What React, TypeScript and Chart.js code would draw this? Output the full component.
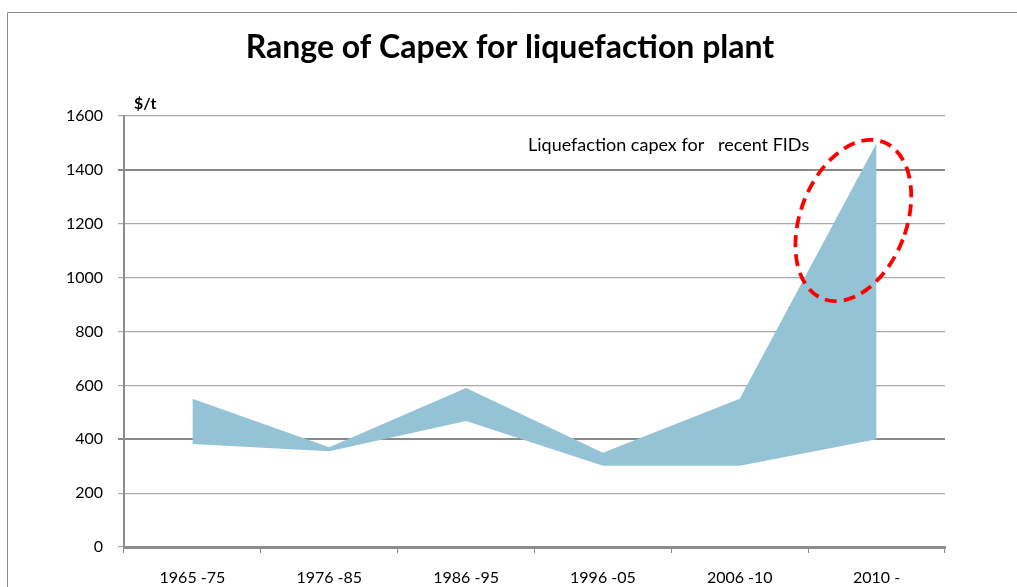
import React, { useEffect, useRef } from "react";
import { Chart, registerables } from "chart.js";

Chart.register(...registerables);

const FONT = "Lato, 'Noto Sans', sans-serif";

const titleText = "Range of Capex for liquefaction plant";
const unitLabel = "$/t";
const noteText = "Liquefaction capex for   recent FIDs";

const categories = ["1965 -75", "1976 -85", "1986 -95", "1996 -05", "2006 -10", "2010 -"];
const upperCapex = [550, 370, 590, 350, 550, 1500];
const lowerCapex = [382, 355, 468, 302, 302, 400];

const yMin = 0;
const yMax = 1600;
const yStep = 200;
const emphasisedGrid = [400, 1400];

// annotation anchors in data space
const ellipseCenterIndex = 4.83;
const ellipseCenterValue = 1212;
const noteCenterIndex = 3.48;
const noteValue = 1490;

const overlayPlugin = {
  id: "overlay",
  beforeDraw(chart: any) {
    const { ctx, width, height } = chart;
    ctx.save();
    ctx.strokeStyle = "#8c8c8c";
    ctx.lineWidth = 1;
    ctx.beginPath();
    ctx.moveTo(7.5, height);
    ctx.lineTo(7.5, 12.5);
    ctx.lineTo(width, 12.5);
    ctx.stroke();
    // title
    ctx.fillStyle = "#000";
    ctx.font = `bold 32px ${FONT}`;
    ctx.textAlign = "center";
    ctx.textBaseline = "middle";
    ctx.fillText(titleText, 510, 48);
    ctx.restore();
  },
  afterDatasetsDraw(chart: any) {
    const { ctx, chartArea, scales } = chart;
    const x = scales.x;
    const y = scales.y;
    ctx.save();
    // unit label
    ctx.fillStyle = "#000";
    ctx.font = `bold 16px ${FONT}`;
    ctx.textAlign = "left";
    ctx.textBaseline = "bottom";
    ctx.fillText(unitLabel, chartArea.left + 10, chartArea.top - 4);

    // note text
    ctx.font = `18px ${FONT}`;
    ctx.textAlign = "center";
    ctx.textBaseline = "middle";
    ctx.fillText(noteText, x.getPixelForValue(noteCenterIndex), y.getPixelForValue(noteValue));

    // dashed ellipse
    const cx = x.getPixelForValue(ellipseCenterIndex);
    const cy = y.getPixelForValue(ellipseCenterValue);
    ctx.strokeStyle = "#ff0000";
    ctx.lineWidth = 3.8;
    ctx.setLineDash([12, 7]);
    ctx.beginPath();
    ctx.ellipse(cx, cy, 53, 84, (21 * Math.PI) / 180, 0, Math.PI * 2);
    ctx.stroke();
    ctx.restore();
  },
};

export default function App() {
  const ref = useRef<HTMLCanvasElement | null>(null);

  useEffect(() => {
    if (!ref.current) return;
    const chart = new Chart(ref.current, {
      type: "line",
      data: {
        labels: categories,
        datasets: [
          {
            label: "High",
            data: upperCapex,
            borderWidth: 0,
            borderColor: "rgba(0,0,0,0)",
            backgroundColor: "#93c3d4",
            pointRadius: 0,
            tension: 0,
            fill: { target: 1 },
          },
          {
            label: "Low",
            data: lowerCapex,
            borderWidth: 0,
            borderColor: "rgba(0,0,0,0)",
            pointRadius: 0,
            tension: 0,
            fill: false,
          },
        ],
      },
      options: {
        responsive: false,
        animation: false,
        layout: { padding: { left: 0, right: 72, top: 116, bottom: 0 } },
        plugins: {
          legend: { display: false },
          tooltip: { enabled: false },
          title: { display: false },
          filler: { propagate: false },
        },
        scales: {
          x: {
            offset: true,
            grid: {
              offset: true,
              drawOnChartArea: false,
              drawTicks: true,
              tickLength: 6,
              color: "#8c8c8c",
              lineWidth: 1,
            },
            border: { color: "#8c8c8c", width: 3 },
            ticks: {
              color: "#000",
              font: { family: FONT, size: 16 },
              padding: 15,
              maxRotation: 0,
              autoSkip: false,
            },
            afterFit(scale: any) {
              scale.height = 40;
            },
          },
          y: {
            min: yMin,
            max: yMax,
            grid: {
              color: (c: any) => (c.tick && emphasisedGrid.includes(c.tick.value) ? "#8a8a8a" : "#a8a8a8"),
              lineWidth: (c: any) => (c.tick && emphasisedGrid.includes(c.tick.value) ? 2 : 1.2),
              tickLength: 6,
            },
            border: { color: "#8c8c8c", width: 2 },
            ticks: {
              stepSize: yStep,
              color: "#000",
              font: { family: FONT, size: 16 },
              padding: 15,
              callback: (v: any) => String(v),
            },
            afterFit(scale: any) {
              scale.width = 124;
            },
          },
        },
      },
      plugins: [overlayPlugin],
    });
    return () => chart.destroy();
  }, []);

  return (
    <div style={{ position: "fixed", left: 0, top: 0, width: 1017, height: 587, background: "#fff" }}>
      <canvas ref={ref} width={1017} height={587} style={{ display: "block" }} />
    </div>
  );
}
